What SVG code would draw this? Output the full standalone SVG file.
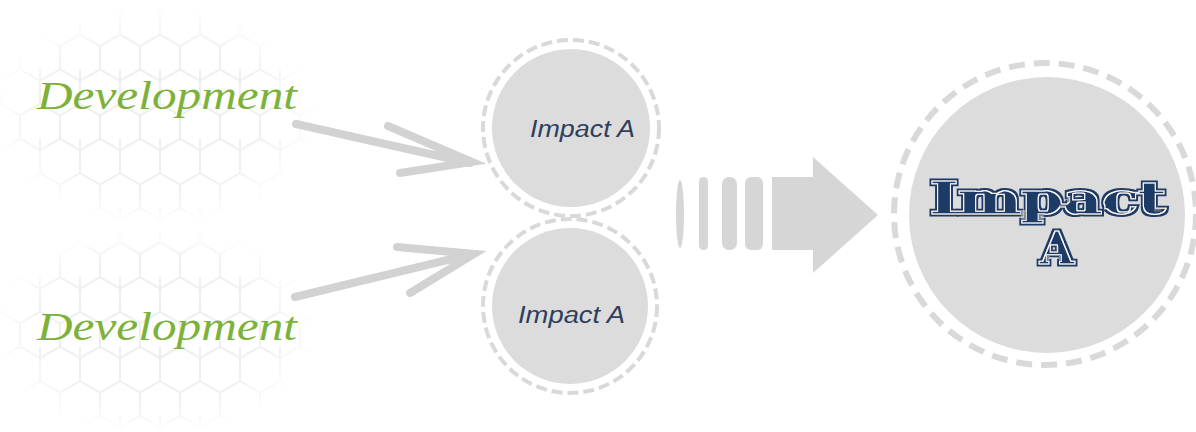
<svg xmlns="http://www.w3.org/2000/svg" width="1196" height="432" viewBox="0 0 1196 432">
<defs>
<style>
.dev{font-family:"Liberation Serif","DejaVu Serif",serif;font-style:italic;font-size:40px;fill:#7db23a}
.small{font-family:"Liberation Sans","DejaVu Sans",sans-serif;font-style:italic;font-size:23px;fill:#2e3f5c}
.big{font-family:"DejaVu Serif","Liberation Serif",serif;font-weight:bold;font-size:45px;text-anchor:middle;fill:#1d3a66;stroke:#1d3a66;stroke-width:5;paint-order:stroke;filter:url(#eng)}
.fill{fill:#dcdcdc}
.ring{fill:none;stroke:#d9d9d9;stroke-width:4;stroke-dasharray:11 5}
.bigring{fill:none;stroke:#d9d9d9;stroke-width:6;stroke-dasharray:16 9}
.conn{fill:none;stroke:#d2d2d2;stroke-width:8;stroke-linecap:round}
.block{fill:#d6d6d6}
</style>
<filter id="eng" x="-10%" y="-20%" width="120%" height="140%">
<feMorphology in="SourceAlpha" operator="erode" radius="2" result="e1"/>
<feMorphology in="SourceAlpha" operator="erode" radius="3" result="e2"/>
<feComposite in="e1" in2="e2" operator="out" result="rim"/>
<feFlood flood-color="#ffffff" result="w"/>
<feComposite in="w" in2="rim" operator="in" result="wr"/>
<feMerge><feMergeNode in="SourceGraphic"/><feMergeNode in="wr"/></feMerge>
</filter>
<pattern id="hex" width="40" height="69.3" patternUnits="userSpaceOnUse">
<path d="M20 0 L40 11.5 L40 34.6 L20 46.2 L0 34.6 L0 11.5 Z M20 46.2 L20 69.3 M0 11.5 L0 0 M40 11.5 L40 0" fill="none" stroke="#ececec" stroke-width="2"/>
</pattern>
<radialGradient id="fade" cx="0.5" cy="0.5" r="0.5">
<stop offset="0" stop-color="#fff" stop-opacity="1"/>
<stop offset="0.7" stop-color="#fff" stop-opacity="0.8"/>
<stop offset="1" stop-color="#fff" stop-opacity="0"/>
</radialGradient>
<mask id="m1"><ellipse cx="155" cy="115" rx="165" ry="110" fill="url(#fade)"/></mask>
<mask id="m2"><ellipse cx="155" cy="330" rx="165" ry="105" fill="url(#fade)"/></mask>
</defs>
<rect width="1196" height="432" fill="#ffffff"/>
<g id="background">
<rect x="0" y="0" width="320" height="230" fill="url(#hex)" mask="url(#m1)"/>
<rect x="0" y="222" width="320" height="210" fill="url(#hex)" mask="url(#m2)"/>
</g>
<g id="connectors">
<path class="conn" d="M296 124 L470 163 M388 126 L472 162 L400 173"/>
<path class="conn" d="M295 297 L472 254 M397 247 L474 254 L410 293"/>
<g id="block-arrow" class="block">
<ellipse cx="680" cy="214" rx="4" ry="34"/>
<rect x="699" y="177" width="9" height="73" rx="4.5"/>
<rect x="722" y="177" width="15" height="73" rx="7"/>
<rect x="745" y="177" width="18" height="73" rx="6"/>
<path d="M772 177 L813 177 L813 157 L878 215 L813 273 L813 250 L772 250 Z"/>
</g>
</g>
<g id="dev-top"><text class="dev" x="37" y="109" textLength="260" lengthAdjust="spacingAndGlyphs">Development</text></g>
<g id="dev-bottom"><text class="dev" x="37" y="340" textLength="260" lengthAdjust="spacingAndGlyphs">Development</text></g>
<g id="impact-top">
<circle class="fill" cx="571" cy="128" r="79"/>
<circle class="ring" cx="571" cy="128" r="88"/>
<text class="small" x="530" y="137" textLength="105" lengthAdjust="spacingAndGlyphs">Impact A</text>
</g>
<g id="impact-bottom">
<circle class="fill" cx="570" cy="306" r="78"/>
<circle class="ring" cx="570" cy="306" r="87"/>
<text class="small" x="518" y="323" textLength="107" lengthAdjust="spacingAndGlyphs">Impact A</text>
</g>
<g id="impact-big">
<circle class="fill" cx="1047" cy="215" r="138"/>
<circle class="bigring" cx="1045" cy="214" r="151"/>
<text class="big" x="1048" y="214" textLength="236" lengthAdjust="spacingAndGlyphs">Impact</text>
<text class="big" x="1057" y="264">A</text>
</g>
</svg>
